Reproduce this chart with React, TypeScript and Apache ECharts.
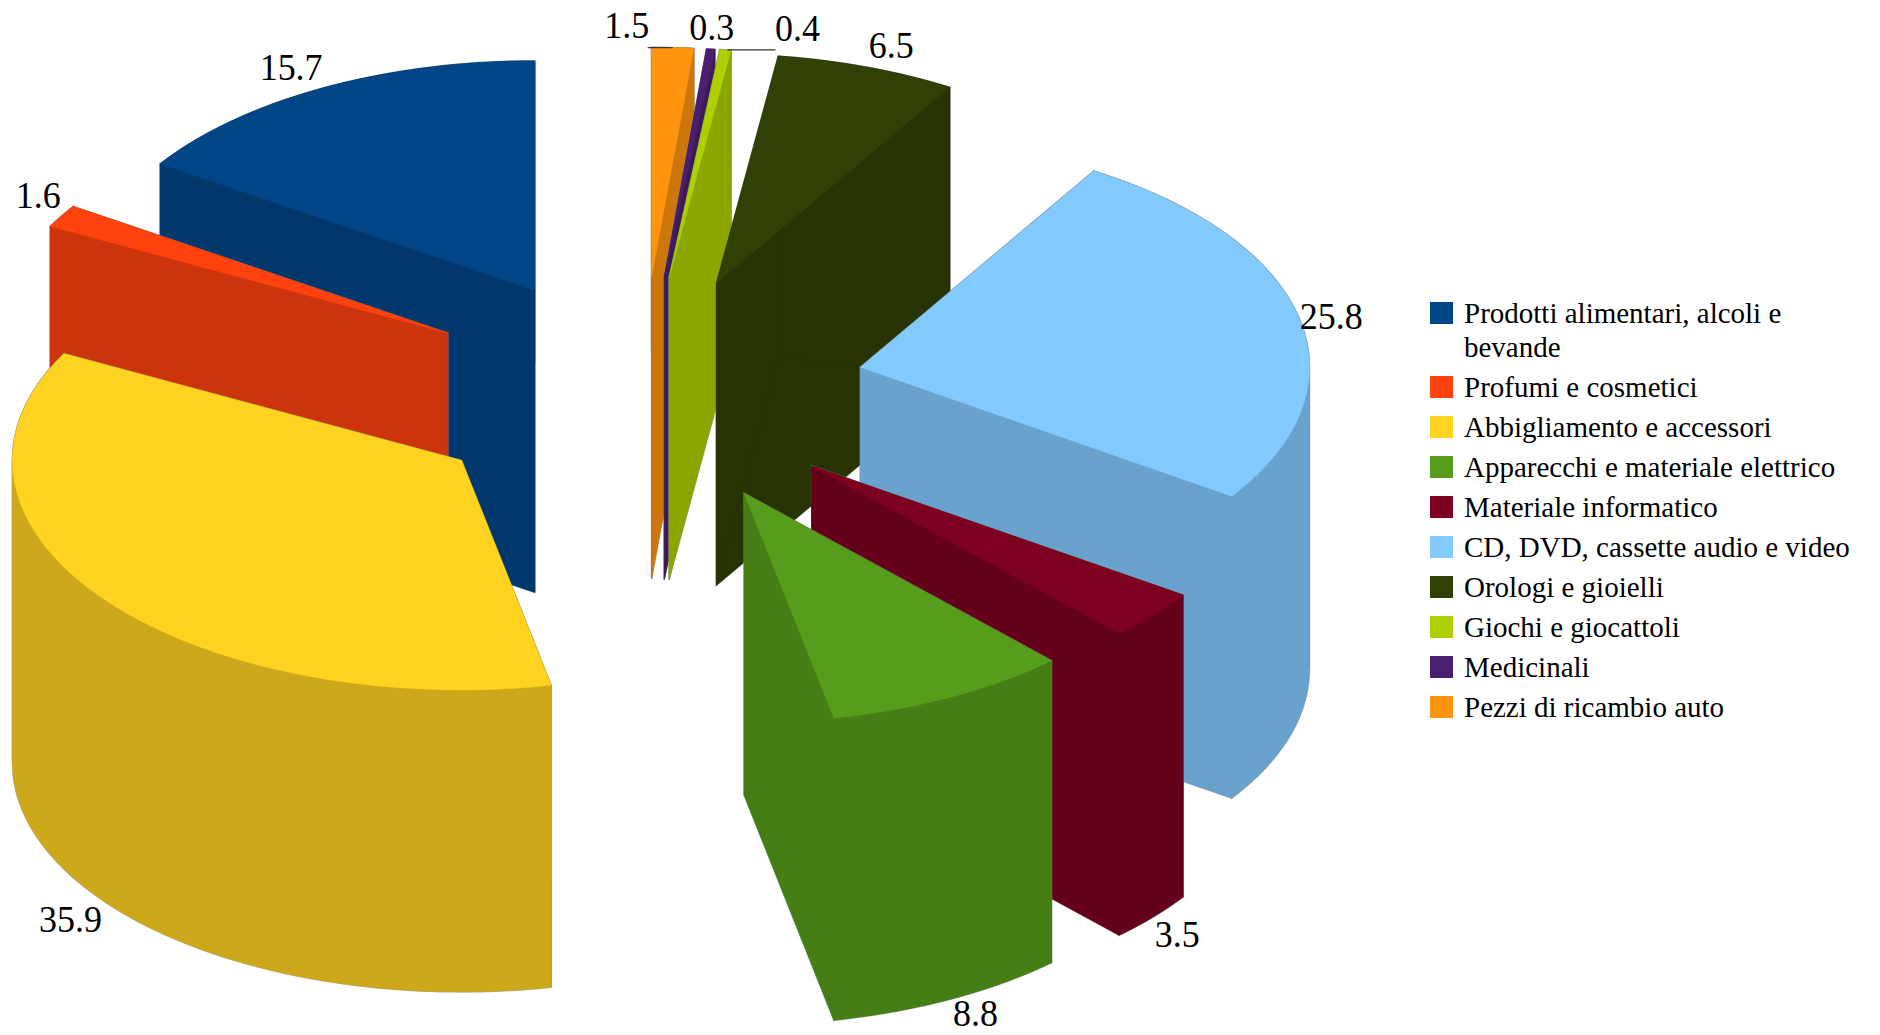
import React, { useEffect, useRef } from "react";
import * as echarts from "echarts";

const categories = [
  "Prodotti alimentari, alcoli e\nbevande",
  "Profumi e cosmetici",
  "Abbigliamento e accessori",
  "Apparecchi e materiale elettrico",
  "Materiale informatico",
  "CD, DVD, cassette audio e video",
  "Orologi e gioielli",
  "Giochi e giocattoli",
  "Medicinali",
  "Pezzi di ricambio auto",
];
const shares = [15.7, 1.6, 35.9, 8.8, 3.5, 25.8, 6.5, 0.4, 0.3, 1.5];
const topColors = ["#004586", "#ff420e", "#ffd320", "#579d1c", "#7e0021", "#83caff", "#314004", "#aecf00", "#4b1f6f", "#ff950e"];
const sideColors = ["#00386b", "#cc350b", "#cca81a", "#467e16", "#65001a", "#69a2cc", "#273303", "#8ca600", "#3c1959", "#cc770b"];

// label offset from the slice's outer mid point
const labelNudges = [[-31, -21], [-23, -21], [-32, 19], [25, 14], [24, 17], [32, -2], [24, -22], [72, -22], [1, -22], [-46, -23]];
const hasLeader = [false, false, false, false, false, false, false, true, false, true];

const CX = 641, CY = 391.5, RX = 449, RY = 229.5, EXPLODE = 0.5, DEPTH = 302;
const SERIF = '"Liberation Serif", "Times New Roman", serif';
const rad = (d: number) => (d * Math.PI) / 180;

function sliceRender(idx: number) {
  return (_p: any, api: any) => {
    const startPct = api.value(0);
    const val = api.value(1);
    const a0 = 90 + startPct * 3.6;
    const a1 = a0 + val * 3.6;
    const mid = (a0 + a1) / 2;
    const ax = CX + EXPLODE * RX * Math.cos(rad(mid));
    const ay = CY - EXPLODE * RY * Math.sin(rad(mid));
    const pt = (a: number, dy = 0) => [ax + RX * Math.cos(rad(a)), ay - RY * Math.sin(rad(a)) + dy];
    const arc = (from: number, to: number, dy = 0) => {
      const steps = Math.max(2, Math.ceil(to - from));
      const out: number[][] = [];
      for (let i = 0; i <= steps; i++) out.push(pt(from + ((to - from) * i) / steps, dy));
      return out;
    };
    // the curved wall is split where the outline turns, so that it never folds over itself
    const cuts = [a0, ...[180, 360].filter((c) => c > a0 && c < a1), a1];
    const apex = [ax, ay];
    const apexB = [ax, ay + DEPTH];
    const faces: { pts: number[][]; fill: string }[] = [
      { pts: [apex, pt(a0), pt(a0, DEPTH), apexB], fill: sideColors[idx] },
      { pts: [apex, pt(a1), pt(a1, DEPTH), apexB], fill: sideColors[idx] },
    ];
    for (let i = 0; i + 1 < cuts.length; i++) {
      faces.push({
        pts: [...arc(cuts[i], cuts[i + 1]), ...arc(cuts[i], cuts[i + 1], DEPTH).reverse()],
        fill: sideColors[idx],
      });
    }
    faces.push({ pts: [apex, ...arc(a0, a1)], fill: topColors[idx] });
    const children: any[] = [];
    faces.forEach((f) => {
      children.push({
        type: "polygon",
        shape: { points: f.pts },
        style: { fill: f.fill, stroke: "rgba(125,125,125,0.55)", lineWidth: 1.5 },
      });
    });
    faces.forEach((f) => {
      children.push({
        type: "polygon",
        shape: { points: f.pts },
        style: { fill: f.fill, stroke: f.fill, lineWidth: 0.5 },
      });
    });
    const sm = Math.sin(rad(mid));
    const outer = pt(mid, sm < 0 ? DEPTH : 0);
    const lx = outer[0] + labelNudges[idx][0];
    const ly = outer[1] + labelNudges[idx][1];
    if (hasLeader[idx]) {
      const dirR = labelNudges[idx][0] > 0;
      children.push({
        type: "line",
        shape: { x1: outer[0] + (dirR ? 2 : 0), y1: outer[1], x2: dirR ? lx - 22 : lx + 21, y2: outer[1] },
        style: { stroke: "#333333", lineWidth: 1.2 },
      });
    }
    children.push({
      type: "text",
      x: lx,
      y: ly,
      scaleY: 1.08,
      style: {
        text: String(val.toFixed(1)),
        x: 0,
        y: 0,
        font: `36px ${SERIF}`,
        fill: "#000000",
        textAlign: "center",
        textVerticalAlign: "middle",
      },
    });
    return { type: "group", children };
  };
}

export default function App() {
  const ref = useRef<HTMLDivElement>(null);
  useEffect(() => {
    const chart = echarts.init(ref.current!, undefined, { renderer: "svg" });
    let cum = 0;
    const starts = shares.map((v) => {
      const s = cum;
      cum += v;
      return s;
    });
    // painter's order: the slices furthest back are drawn first
    const backness = shares.map((v, i) => Math.sin(rad(90 + (starts[i] + v / 2) * 3.6)));
    const ranks = backness.map((b) => backness.filter((o) => o > b).length);
    chart.setOption({
      animation: false,
      backgroundColor: "#ffffff",
      legend: {
        orient: "vertical",
        left: 1430,
        top: 262,
        padding: 0,
        itemWidth: 23,
        itemHeight: 22,
        itemGap: 6,
        selectedMode: false,
        icon: "rect",
        // a leading blank line keeps the first line of the wrapped entry level with its marker
        formatter: (n: string) => (n.includes("\n") ? "\n" + n : n),
        textStyle: { fontFamily: SERIF, fontSize: 29, lineHeight: 34, color: "#000000", padding: [0, 0, 0, 6] },
        data: categories,
      },
      series: categories.map((name, i) => ({
        type: "custom",
        name,
        coordinateSystem: "none",
        z: 2 + ranks[i],
        silent: true,
        itemStyle: { color: topColors[i] },
        data: [[starts[i], shares[i]]],
        renderItem: sliceRender(i),
      })),
    });
    return () => chart.dispose();
  }, []);
  return <div ref={ref} style={{ position: "fixed", left: 0, top: 0, width: 1880, height: 1035 }} />;
}
